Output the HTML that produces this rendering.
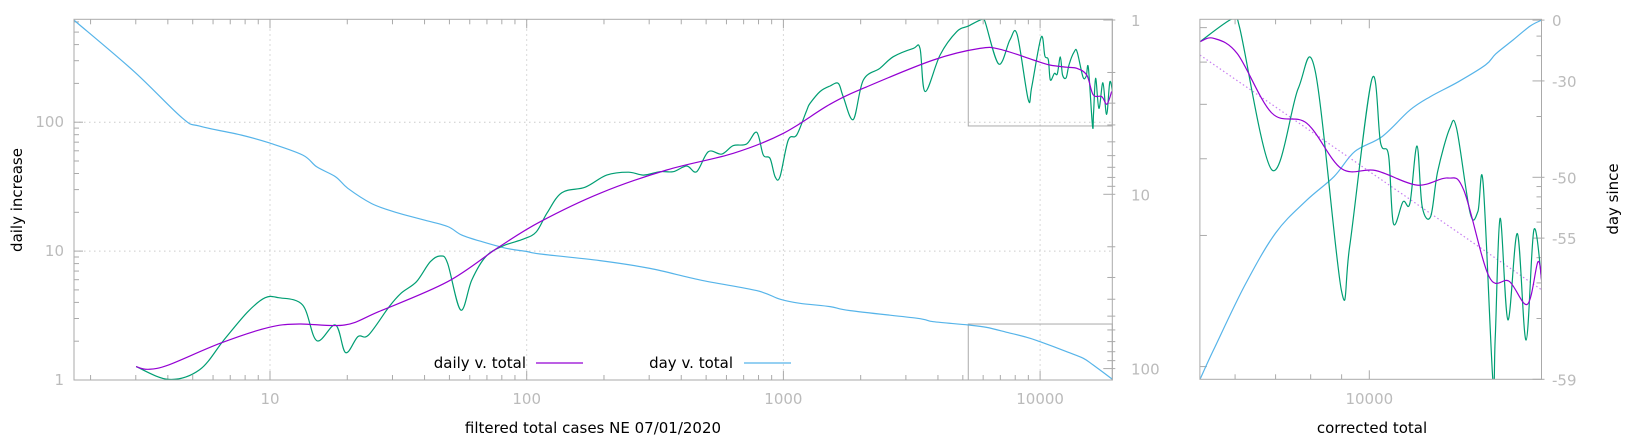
<!DOCTYPE html>
<html><head><meta charset="utf-8"><style>
html,body{margin:0;padding:0;background:#fff;}
svg{display:block;font-family:"DejaVu Sans","Liberation Sans",sans-serif;}
.tl{fill:#bbbbbb;font-size:15px;}
.al{fill:#000;font-size:15px;}
</style></head><body>
<svg id="chart" width="1640" height="440" viewBox="0 0 1640 440" xmlns="http://www.w3.org/2000/svg">
<defs>
<clipPath id="cm"><rect x="74" y="19.3" width="1038.3" height="360.7"/></clipPath>
<clipPath id="cr"><rect x="1199.9" y="19.3" width="341.6" height="360"/></clipPath>
</defs>
</svg>
<script>
// ---- main panel data ----
const greenTotals=[3.01,4.03,5.32,6.61,8.20,9.58,10.8,13.4,15.2,18.0,19.7,22.0,24.2,29.1,32.4,37.2,42.1,46.2,49.2,55.3,61.1,69.2,80.8,97.1,109,120,137,169,205,249,285,330,372,420,459,510,575,638,719,787,835,887,928,970,1045,1127,1233,1270,1390,1520,1637,1710,1872,2047,2377,2679,3207,3405,3565,4077,4732,5250,5940,6100,6900,7630,8140,8990,9280,10100,10440,10760,10960,11370,11670,11990,12230,12630,12970,13580,13940,14680,15120,15420,16000,16150,16450,16950,17570,18160,18710,19270];
const greenDaily=[1.27,1.01,1.20,2.04,3.39,4.35,4.35,3.82,2.02,2.67,1.63,2.17,2.23,3.70,4.71,5.79,8.27,9.16,8.04,3.49,5.97,9.05,10.96,12.4,14.1,19.7,28.4,31.3,38.9,40.9,38.9,41.3,41.3,45.7,41.3,59,56.6,65.8,67.7,83.5,55.7,52.5,37.8,37.8,72.8,79.6,124,140,173,191,200,158,105,212,262,322,374,374,173,332,504,557,629,603,283,435,477,150,189,457,326,306,213,239,237,321,233,221,280,352,352,225,227,264,93.5,116,219,128,202,115,206,158];
const smoothTotals=[3.01,3.35,4.03,6.41,9.88,13.0,19.5,26.5,49.2,78.2,113,193,351,638,1000,1520,2110,3840,5830,6980,9420,10900,12700,13900,15200,16100,17400,18200,19000];
const smoothDaily=[1.27,1.21,1.31,1.93,2.56,2.72,2.67,3.39,5.79,10.8,16.9,28.1,42.6,57.4,82,138,188,304,374,368,304,278,267,262,232,163,158,138,173];
const dayTotals=[1.72,2.96,4.56,5.32,7.71,9.88,13.4,15.2,18.0,20.1,24.9,31.0,39.6,49.2,55.7,67.0,83.2,100,113,193,302,473,787,970,1160,1520,1820,3304,3840,5250,6190,7410,8870,10000,12700,14730,16100,19100];
const dayValues=[1.0,1.98,3.66,4.06,4.57,5.06,5.95,6.95,7.93,9.24,11.3,12.7,14.0,15.3,17.1,18.7,20.4,21.3,22,24.0,26.6,31.0,35.7,40.0,42.2,44.1,46.5,51.4,53.8,56.2,58,61.9,66.1,70.1,80,87.3,95.4,115];
const xTickLabels=["10","100","1000","10000"];
const yTickLabels=["1","10","100"];
const y2TickLabels=["1","10","100"];
// ---- right panel data ----
const rSmoothTotals=[5250,5530,6050,6900,7880,8990,10240,11990,13470,14330,15770,17030,18250,19000,19270];
const rSmoothDaily=[557,567,523,382,362,285,282,261,271,254,161,157,139,174,157];
const fitTotals=[5250,19270];
const fitDaily=[519,150];
const rDayTotals=[5250,5530,6220,7000,7880,8750,9460,10500,11670,12620,14030,15570,16180,17290,18450,19270];
const rDays=[-59,-58.6,-57.1,-54.7,-52.3,-49.9,-46.6,-44.1,-38.5,-34.9,-30.3,-24,-19.2,-12.1,-3.9,0];
const rXTickLabels=["10000"];
const rY2Ticks=[0,-30,-50,-55,-59];

const NS="http://www.w3.org/2000/svg";
const svg=document.getElementById('chart');
const L=Math.log10;
// main scales
const MX0=74,MX1=1112.3,MY0=19.3,MY1=380;
const mx=v=>270+256.7*(L(v)-1);
const my=v=>380-128.9*L(v);
const my2=v=>20+174.3*L(v);
// right scales
const RX0=1199.9,RX1=1541.5,RY0=19.3,RY1=379.3;
const rx=v=>1369.3+605*(L(v)-4);
const ry=v=>379.3-435.6*L(v/93.5);
const ry2=d=>379.3-202*L(60+d);

function mk(tag,attrs,parent){const e=document.createElementNS(NS,tag);for(const k in attrs)e.setAttribute(k,attrs[k]);(parent||svg).appendChild(e);return e;}
function smoothPath(pts){
  let d='M'+pts[0][0].toFixed(1)+','+pts[0][1].toFixed(1);
  for(let i=0;i<pts.length-1;i++){
    const p0=pts[Math.max(0,i-1)],p1=pts[i],p2=pts[i+1],p3=pts[Math.min(pts.length-1,i+2)];
    const c1x=p1[0]+(p2[0]-p0[0])/6,c1y=p1[1]+(p2[1]-p0[1])/6;
    const c2x=p2[0]-(p3[0]-p1[0])/6,c2y=p2[1]-(p3[1]-p1[1])/6;
    d+=' C'+c1x.toFixed(1)+','+c1y.toFixed(1)+' '+c2x.toFixed(1)+','+c2y.toFixed(1)+' '+p2[0].toFixed(1)+','+p2[1].toFixed(1);
  }
  return d;
}
const G='#aaaaaa';
function line(x1,y1,x2,y2,name,extra){const e=mk('line',Object.assign({x1,y1,x2,y2,stroke:G,'stroke-width':1},extra||{}));


return e;}
function text(x,y,s,cls,anchor,name,extra){const e=mk('text',Object.assign({x,y,'class':cls,'text-anchor':anchor},extra||{}));e.textContent=s;


return e;}

// ---------- MAIN PANEL ----------
// grid
[10,100,1000,10000].forEach(v=>{line(mx(v),MY0,mx(v),MY1,'x-grid-line',{stroke:'#cccccc','stroke-dasharray':'1.5,3.5'});});
[10,100].forEach(v=>{line(MX0,my(v),MX1,my(v),'y-grid-line',{stroke:'#cccccc','stroke-dasharray':'1.5,3.5'});});
// x ticks
for(let e=0;e<=4;e++)for(let m=1;m<=9;m++){const v=m*Math.pow(10,e);const x=mx(v);if(x<MX0+0.5||x>MX1-0.5)continue;const len=m===1?9:5;
line(x,MY1,x,MY1-len,'x-tick');line(x,MY0,x,MY0+len,'x-tick-top');}
xTickLabels.forEach(s=>text(mx(+s),404,s,'tl','middle','x-tick-label'));
// left y ticks
for(let e=0;e<=2;e++)for(let m=1;m<=9;m++){const v=m*Math.pow(10,e);const y=my(v);if(y<MY0)continue;const len=m===1?9:5;line(MX0,y,MX0+len,y,'y-tick');}
yTickLabels.forEach(s=>text(64,my(+s)+5,s,'tl','end','y-tick-label'));
// right y2 ticks
for(let e=0;e<=2;e++)for(let m=1;m<=9;m++){const v=m*Math.pow(10,e);const y=my2(v);if(y>MY1+0.5)continue;const len=m===1?9:5;line(MX1,y,MX1-len,y,'y2-tick');line(MX1,y,MX1+3,y,'y2-tick-out');}
y2TickLabels.forEach(s=>text(1131,my2(+s)+6,s,'tl','start','y2-tick-label'));
// zoom boxes
const bx=mx(5250);
const zb=mk('rect',{x:bx,y:MY0,width:MX1-bx,height:my(93.5)-MY0,fill:'none',stroke:G,'stroke-width':1});


const zb2=mk('rect',{x:bx,y:my2(55.5),width:MX1-bx,height:MY1-my2(55.5),fill:'none',stroke:G,'stroke-width':1});


// series
const gm=mk('g',{'clip-path':'url(#cm)'});


const pBlue=mk('path',{d:smoothPath(dayTotals.map((t,i)=>[mx(t),my2(dayValues[i])])),fill:'none',stroke:'#56b4e9','stroke-width':1.2},gm);


const pGreen=mk('path',{d:smoothPath(greenTotals.map((t,i)=>[mx(t),my(greenDaily[i])])),fill:'none',stroke:'#009e73','stroke-width':1.2},gm);


const pPurple=mk('path',{d:smoothPath(smoothTotals.map((t,i)=>[mx(t),my(smoothDaily[i])])),fill:'none',stroke:'#9400d3','stroke-width':1.2},gm);


// frame
const fr=mk('rect',{x:MX0,y:MY0,width:MX1-MX0,height:MY1-MY0,fill:'none',stroke:G,'stroke-width':1});


// legend
text(526,368,'daily v. total','al','end','legend-label-daily');
line(536,363,583,363,'legend-swatch-daily',{stroke:'#9400d3','stroke-width':1.2});
text(733,368,'day v. total','al','end','legend-label-day');
line(744,363,791,363,'legend-swatch-day',{stroke:'#56b4e9','stroke-width':1.2});
// axis titles
text(593,433,'filtered total cases NE 07/01/2020','al','middle','x-axis-title');
text(22,200,'daily increase','al','middle','y-axis-title',{transform:'rotate(-90 22 200)'});

// ---------- RIGHT PANEL ----------
for(let m=5;m<=10;m++){const v=m*1000;const x=rx(v);if(x<RX0+0.5)continue;const len=m===10?9:5;line(x,RY1,x,RY1-len,'right-x-tick');line(x,RY0,x,RY0+len,'right-x-tick-top');}
rXTickLabels.forEach(s=>text(rx(+s),404,s,'tl','middle','right-x-tick-label'));
[100,200,300,400,500,600].forEach(v=>{line(RX0,ry(v),RX0+7,ry(v),'right-y-tick');});
[-58,-57,-56,-54,-53,-52,-51,-40,-20,-10].forEach(d=>{line(RX1,ry2(d),RX1-5,ry2(d),'right-y2-minor-tick');});
rY2Ticks.forEach(d=>{line(RX1,ry2(d),RX1-9,ry2(d),'right-y2-tick');line(RX1,ry2(d),RX1+3,ry2(d),'right-y2-tick-out');
text(1552,ry2(d)+6,String(d),'tl','start','right-y2-tick-label');});
const gr=mk('g',{'clip-path':'url(#cr)'});


const rBlue=mk('path',{d:smoothPath(rDayTotals.map((t,i)=>[rx(t),ry2(rDays[i])])),fill:'none',stroke:'#56b4e9','stroke-width':1.2},gr);


const fitL=mk('path',{d:'M'+rx(fitTotals[0])+','+ry(fitDaily[0])+' L'+rx(fitTotals[1])+','+ry(fitDaily[1]),fill:'none',stroke:'#c77ef0','stroke-width':1.2,'stroke-dasharray':'1.5,2.5'},gr);


const rg=greenTotals.map((t,i)=>[t,greenDaily[i]]).filter(p=>p[0]>=5000);
const rGreen=mk('path',{d:smoothPath(rg.map(p=>[rx(p[0]),ry(p[1])])),fill:'none',stroke:'#009e73','stroke-width':1.2},gr);


const rPurple=mk('path',{d:smoothPath(rSmoothTotals.map((t,i)=>[rx(t),ry(rSmoothDaily[i])])),fill:'none',stroke:'#9400d3','stroke-width':1.2},gr);


const fr2=mk('rect',{x:RX0,y:RY0,width:RX1-RX0,height:RY1-RY0,fill:'none',stroke:G,'stroke-width':1});


text(1372,433,'corrected total','al','middle','right-x-axis-title');
text(1618,199,'day since','al','middle','right-y2-axis-title',{transform:'rotate(-90 1618 199)'});
</script>
</body></html>
